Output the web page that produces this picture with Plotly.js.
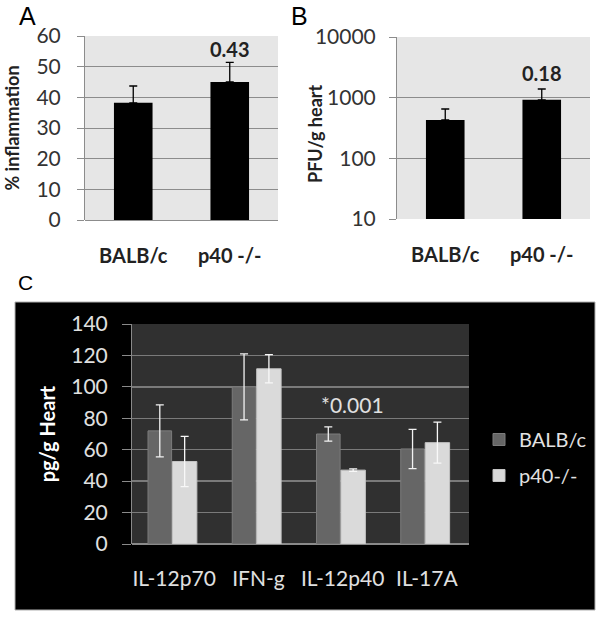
<!DOCTYPE html>
<html>
<head>
<meta charset="utf-8">
<script src="https://cdn.plot.ly/plotly-3.0.1.min.js"></script>
<style>html,body{margin:0;padding:0;background:#fff;}#chart{width:602px;height:617px;}</style>
</head>
<body>
<div id="chart"></div>
<script>
// ---- Data ----
const groupsAB = ['BALB/c', 'p40 -/-'];
const inflammation = [38.2, 45.0];
const inflammationErr = [5.5, 6.4];
const pfu = [430, 920];
const pfuErr = [220, 470];
const cytokines = ['IL-12p70', 'IFN-g', 'IL-12p40', 'IL-17A'];
const balbValues = [72, 100, 70, 60.5];
const balbErr = [16.5, 21, 4.5, 12.5];
const p40Values = [52.5, 111.5, 47, 64.5];
const p40Err = [16, 9, 0.8, 13];
const seriesNames = ['BALB/c', 'p40-/-'];
const pvalA = '0.43', pvalB = '0.18', pvalC = '*0.001';

const W = 602, H = 617;
const px = v => v / W, py = v => 1 - v / H;
const FONT = 'Lato, "Open Sans", sans-serif';
const LETTER = '"Liberation Sans", Arial, sans-serif';

const traces = [
  {type:'bar', x: groupsAB, y: inflammation, xaxis:'x', yaxis:'y', width:0.4,
   marker:{color:'#000'}, showlegend:false,
   error_y:{type:'data', symmetric:false, array: inflammationErr, arrayminus:[0,0], color:'#000', thickness:1.3, width:4}},
  {type:'bar', x: groupsAB, y: pfu, xaxis:'x2', yaxis:'y2', width:0.4,
   marker:{color:'#000'}, showlegend:false,
   error_y:{type:'data', symmetric:false, array: pfuErr, arrayminus:[0,0], color:'#000', thickness:1.3, width:4}},
  {type:'bar', name: seriesNames[0], x: cytokines, y: balbValues, xaxis:'x3', yaxis:'y3',
   offset:-0.31, width:0.28, legendgroup:'a',
   marker:{color:'#666666', line:{color:'#7c7c7c', width:1}},
   error_y:{type:'data', array: balbErr, color:'#f2f2f2', thickness:1.3, width:4}},
  {type:'bar', name: seriesNames[1], x: cytokines, y: p40Values, xaxis:'x3', yaxis:'y3',
   offset:-0.02, width:0.29, legendgroup:'b',
   marker:{color:'#dadada', line:{color:'#c4c4c4', width:1}},
   error_y:{type:'data', array: p40Err, color:'#f8f8f8', thickness:1.3, width:4}}
];

const gridAB = '#8c8c8c';
const layout = {
  width: W, height: H,
  margin:{l:0, r:0, t:0, b:0},
  paper_bgcolor:'#fff', plot_bgcolor:'rgba(0,0,0,0)',
  barmode:'group',
  font:{family: FONT, color:'#222'},
  showlegend:true,
  legend:{x: px(479), y: py(420), xanchor:'left', yanchor:'top', bgcolor:'rgba(0,0,0,0)',
          font:{family: FONT, size:20, color:'#e2e2e2'}, tracegroupgap:7, itemwidth:30},
  xaxis:{domain:[px(85), px(278)], anchor:'y', showgrid:false, showline:false, ticks:'',
         tickfont:{size:20, weight:'bold', color:'#222'}, ticklabelstandoff:22},
  yaxis:{domain:[py(220), py(36)], anchor:'x', range:[0,60], dtick:10, gridcolor:gridAB, gridwidth:1,
         zeroline:true, zerolinecolor:gridAB, zerolinewidth:1,
         showline:true, linecolor:gridAB, linewidth:1, ticks:'outside', ticklen:7, tickcolor:gridAB,
         tickfont:{size:21, color:'#333'}, ticklabelstandoff:12,
         title:{text:'% inflammation', font:{size:18, weight:'bold', color:'#222'}, standoff:12}},
  xaxis2:{domain:[px(397), px(590)], anchor:'y2', showgrid:false, showline:false, ticks:'',
          tickfont:{size:20, weight:'bold', color:'#222'}, ticklabelstandoff:22},
  yaxis2:{domain:[py(219), py(37)], anchor:'x2', type:'log', range:[1,4],
          tickvals:[10,100,1000,10000], ticktext:['10','100','1000','10000'],
          gridcolor:gridAB, gridwidth:1, showline:true, linecolor:gridAB, linewidth:1,
          ticks:'outside', ticklen:7, tickcolor:gridAB, tickfont:{size:21, color:'#333'}, ticklabelstandoff:9},
  xaxis3:{domain:[px(132), px(469)], anchor:'y3', showgrid:false, showline:false, ticks:'',
          tickfont:{size:21, color:'#e0e0e0'}, ticklabelstandoff:20},
  yaxis3:{domain:[py(544), py(324)], anchor:'x3', range:[0,140], dtick:20, gridcolor:'#7a7a7a', gridwidth:1.5,
          zeroline:true, zerolinecolor:'#8a8a8a', zerolinewidth:1.5,
          showline:true, linecolor:'#8a8a8a', linewidth:1, ticks:'outside', ticklen:9, tickcolor:'#8a8a8a',
          tickfont:{size:21, color:'#e0e0e0'}, ticklabelstandoff:10,
          title:{text:'pg/g Heart', font:{size:20, weight:'bold', color:'#fff'}, standoff:10}},
  shapes:[
    {type:'rect', xref:'paper', yref:'paper', x0:px(15), x1:px(595), y0:py(610), y1:py(302),
     fillcolor:'#000', line:{color:'#b0b0b0', width:1}, layer:'below'},
    {type:'rect', xref:'x domain', yref:'y domain', x0:0, x1:1, y0:0, y1:1,
     fillcolor:'#e6e6e6', line:{width:0}, layer:'below'},
    {type:'rect', xref:'x2 domain', yref:'y2 domain', x0:0, x1:1, y0:0, y1:1,
     fillcolor:'#e6e6e6', line:{width:0}, layer:'below'},
    {type:'rect', xref:'x3 domain', yref:'y3 domain', x0:0, x1:1, y0:0, y1:1,
     fillcolor:'#303030', line:{width:0}, layer:'below'}
  ],
  annotations:[
    {xref:'paper', yref:'paper', x:px(17), y:py(16), yanchor:'middle', text:'A', showarrow:false,
     font:{family:LETTER, size:25, color:'#000'}},
    {xref:'paper', yref:'paper', x:px(299), y:py(16), yanchor:'middle', text:'B', showarrow:false,
     font:{family:LETTER, size:25, color:'#000'}},
    {xref:'paper', yref:'paper', x:px(16), y:py(282), yanchor:'middle', text:'C', showarrow:false,
     font:{family:LETTER, size:21, color:'#000'}},
    {xref:'paper', yref:'paper', x:px(315), y:py(134), xanchor:'center', yanchor:'middle', textangle:-90,
     text:'PFU/g heart', showarrow:false, font:{size:18, weight:'bold', color:'#222'}},
    {xref:'x', yref:'y', x:1, y:55.8, text:pvalA, showarrow:false,
     font:{size:20, weight:'bold', color:'#222'}},
    {xref:'x2', yref:'y2', x:1, y:3.41, text:pvalB, showarrow:false,
     font:{size:20, weight:'bold', color:'#222'}},
    {xref:'x3', yref:'y3', x:2.12, y:88.5, text:pvalC, showarrow:false,
     font:{size:21, color:'#e0e0e0'}}
  ]
};

Plotly.newPlot('chart', traces, layout, {displayModeBar:false, staticPlot:true});
</script>
</body>
</html>
